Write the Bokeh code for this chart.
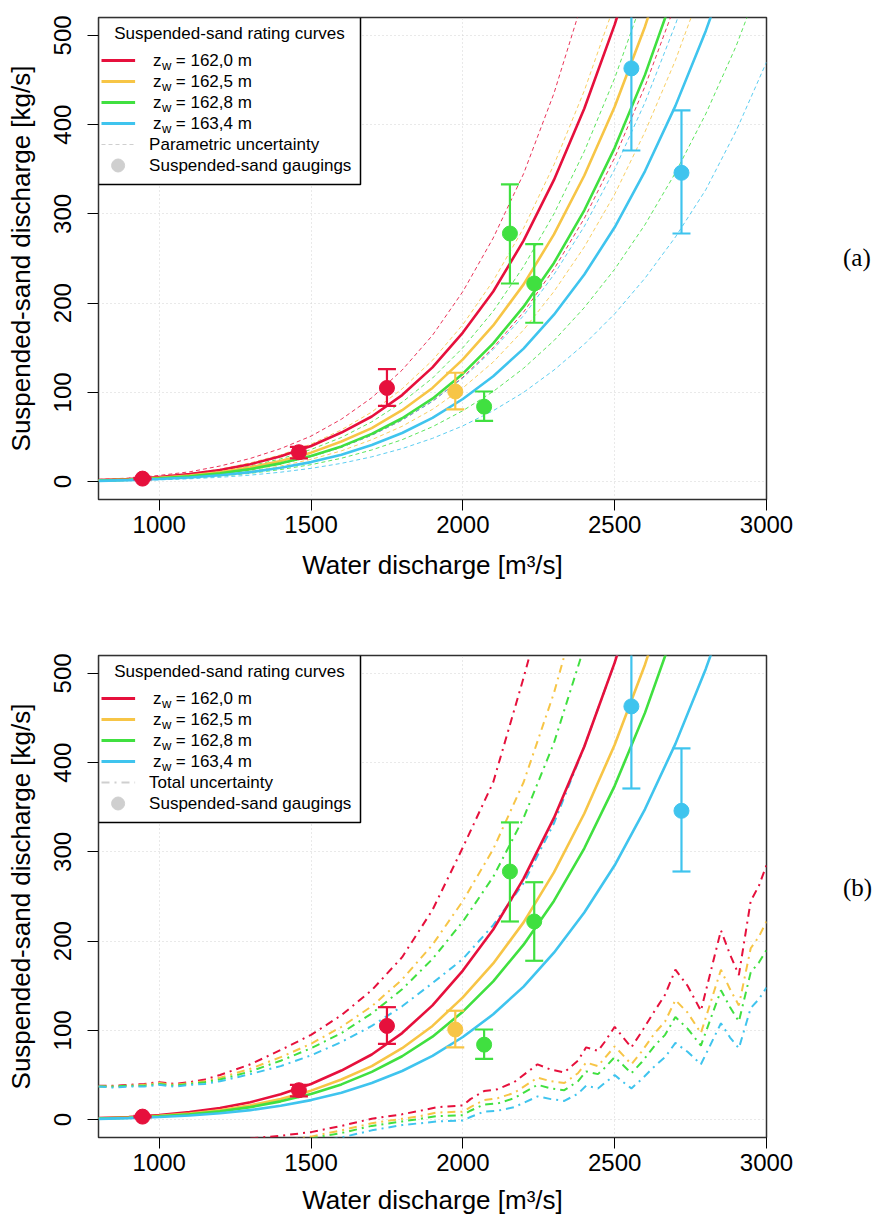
from bokeh.plotting import figure
from bokeh.models import Range1d, FixedTicker, Label, Div
from bokeh.layouts import column, row
from bokeh.embed import file_html
from bokeh.resources import INLINE

# ---------------- data ----------------
X_TICKS = [1000, 1500, 2000, 2500, 3000]
Y_TICKS = [0, 100, 200, 300, 400, 500]
X_RANGE = (800, 3000)
Y_RANGE = (-20, 520)

STAGES = ["162,0", "162,5", "162,8", "163,4"]

# rating curves (median), water discharge grid
q_grid = [800, 900, 1000, 1100, 1200, 1300, 1400, 1500, 1600, 1700, 1800, 1900,
          2000, 2100, 2200, 2300, 2400, 2500, 2600, 2700, 2800, 2900, 3000]
red_mid = [1.8, 3.0, 5.2, 8.5, 13, 19.5, 28.5, 40, 55, 73, 97, 128, 167, 213, 270, 338, 418, 512, 620]
yel_mid = [1.4, 2.4, 4.2, 6.8, 10.5, 16, 23, 32.5, 45, 60, 80, 105, 137, 175, 221, 277, 343, 420, 510, 615]
grn_mid = [1.2, 2.1, 3.8, 6.0, 9.3, 14, 20.5, 28.7, 39.5, 53.5, 71, 93, 121, 155, 196, 245, 304, 374, 456, 552]
blu_mid = [0.9, 1.7, 2.9, 4.6, 7.1, 10.7, 15.6, 21.9, 30.2, 41, 54.5, 71.5, 92.6, 118, 149, 187, 232, 285, 348, 421, 505, 600]

# parametric uncertainty (panel a)
red_par_hi = [2.5, 4.0, 7.0, 11, 17.5, 26, 37, 51, 70, 94, 125, 164, 213, 273, 345, 435, 545]
red_par_lo = [1.2, 2.0, 3.6, 5.8, 9.0, 13.5, 20, 28, 38.5, 52, 69, 90, 117, 150, 190, 238, 295, 363, 443, 535]
yel_par_hi = [1.9, 3.2, 5.5, 9.0, 14, 21, 30, 42, 58, 78, 104, 136, 176, 225, 284, 355, 438, 535]
yel_par_lo = [1.0, 1.8, 3.2, 5.2, 8.0, 12, 17.5, 25, 34.5, 47, 62, 81, 105, 134, 170, 213, 263, 322, 392, 472, 565]
grn_par_hi = [1.6, 2.7, 4.7, 7.6, 11.8, 17.6, 25.5, 36, 49.5, 67, 89, 116, 150, 191, 241, 300, 370, 452, 548]
grn_par_lo = [0.8, 1.4, 2.5, 4.0, 6.2, 9.3, 13.6, 19, 26.2, 35.5, 47, 61.5, 79.5, 101, 127, 158, 195, 238, 288, 346, 412, 488, 578]
blu_par_hi = [1.2, 2.2, 3.8, 6.0, 9.2, 13.8, 20, 28, 38.5, 52, 69, 90, 116, 148, 186, 232, 286, 350, 425, 512, 612]
blu_par_lo = [0.6, 1.1, 2.0, 3.2, 4.9, 7.3, 10.6, 14.9, 20.5, 27.8, 37, 48.5, 62.5, 79.5, 100, 125, 154, 188, 228, 274, 327, 393, 470]

# total uncertainty, upper bounds (panel b)
q_tot = [800, 850, 900, 950, 1000, 1050, 1100, 1150, 1200, 1300, 1400, 1500, 1600,
         1700, 1800, 1900, 2000, 2100, 2200, 2300, 2400, 2500, 2600]
red_tot_hi = [38, 38, 39, 40, 42, 40, 42, 45, 50, 62, 78, 95, 117, 145, 182, 235, 305, 378, 495, 620]
yel_tot_hi = [37.5, 37, 38, 39, 41, 39, 41, 43, 47, 57, 70, 85, 104, 127, 157, 196, 245, 303, 378, 478, 600]
grn_tot_hi = [37, 37, 38, 38, 40, 38, 40, 42, 45, 54, 66, 80, 97, 119, 146, 180, 222, 272, 338, 422, 530]
blu_tot_hi = [37, 36, 37, 37, 39, 37, 39, 40, 43, 51, 60, 72, 87, 105, 127, 153, 180, 218, 265, 332, 418, 512, 620]

# total uncertainty, lower bounds (panel b)
q_low = [1300, 1400, 1500, 1600, 1700, 1800, 1860, 1915, 2000, 2025, 2070, 2114, 2169,
         2246, 2290, 2334, 2379, 2406, 2445, 2467, 2500, 2528, 2555, 2588, 2632, 2666,
         2700, 2740, 2784, 2850, 2880, 2909, 2948, 2975, 3000]
red_tot_lo = [-21, -18, -14, -7, 1, 6, 10, 14, 16, 23, 32, 34, 42, 62, 56, 53, 66, 81, 77, 87,
              104, 92, 81, 98, 122, 140, 168, 150, 122, 212, 185, 162, 245, 262, 285]
yel_tot_lo = [-28, -24, -19, -12, -4, 1, 4, 8, 9, 14, 22, 24, 30, 47, 43, 41, 52, 64, 60, 69,
              82, 72, 62, 76, 97, 110, 134, 120, 97, 168, 146, 128, 192, 205, 222]
grn_tot_lo = [-30, -26, -21, -15, -7, -2, 1, 4, 5, 10, 17, 18, 24, 39, 35, 33, 43, 54, 51, 58,
              70, 61, 52, 64, 83, 95, 115, 102, 83, 145, 126, 110, 165, 176, 190]
blu_tot_lo = [-33, -30, -26, -20, -12, -6, -4, -2, -1, 3, 9, 10, 14, 26, 23, 21, 29, 38, 35, 41,
              50, 42, 35, 45, 60, 70, 86, 76, 62, 108, 92, 80, 125, 135, 148]

# suspended-sand gaugings with error bars
gauge_q = {"red": [945, 1460, 1750], "yel": [1975], "grn": [2070, 2155, 2235], "blu": [2555, 2720]}
gauge_qs = {"red": [3.4, 33, 105], "yel": [101], "grn": [84, 278, 222], "blu": [463, 346]}
gauge_lo = {"red": [2.5, 26, 85], "yel": [81], "grn": [68, 222, 178], "blu": [371, 278]}
gauge_hi = {"red": [4.3, 39, 126], "yel": [122], "grn": [101, 333, 266], "blu": [555, 416]}

# ---------------- styles ----------------
COLORS = {"red": "#E6103C", "yel": "#F7C546", "grn": "#40E040", "blu": "#3FC4EE"}
KEYS = ["red", "yel", "grn", "blu"]
FONT = "Liberation Sans"
FRAME_W, FRAME_H = 668, 482
MID = {"red": red_mid, "yel": yel_mid, "grn": grn_mid, "blu": blu_mid}
PAR = {"red": (red_par_hi, red_par_lo), "yel": (yel_par_hi, yel_par_lo),
       "grn": (grn_par_hi, grn_par_lo), "blu": (blu_par_hi, blu_par_lo)}
TOT_HI = {"red": red_tot_hi, "yel": yel_tot_hi, "grn": grn_tot_hi, "blu": blu_tot_hi}
TOT_LO = {"red": red_tot_lo, "yel": yel_tot_lo, "grn": grn_tot_lo, "blu": blu_tot_lo}

LEFT_B, RIGHT_B = 98, 32


def px_x(px):
    return X_RANGE[0] + px * (X_RANGE[1] - X_RANGE[0]) / FRAME_W


def px_y(py):
    return Y_RANGE[1] - py * (Y_RANGE[1] - Y_RANGE[0]) / FRAME_H


def lab(p, x, y, text, size="17px", align="left", font=FONT):
    p.add_layout(Label(x=x, y=y, text=text, text_font=font, text_font_size=size,
                       text_align=align, text_baseline="middle", text_color="black"))


def make_panel(kind, top_b, bot_b, title_standoff):
    p = figure(frame_width=FRAME_W, frame_height=FRAME_H,
               x_range=Range1d(*X_RANGE), y_range=Range1d(*Y_RANGE),
               output_backend="svg", toolbar_location=None,
               min_border_left=LEFT_B, min_border_right=RIGHT_B,
               min_border_top=top_b, min_border_bottom=bot_b)
    p.background_fill_color = "white"
    p.border_fill_color = "white"
    p.outline_line_color = "#303030"
    p.outline_line_width = 1.5

    p.xaxis.ticker = FixedTicker(ticks=X_TICKS)
    p.yaxis.ticker = FixedTicker(ticks=Y_TICKS)
    p.xgrid.ticker = FixedTicker(ticks=X_TICKS)
    p.ygrid.ticker = FixedTicker(ticks=Y_TICKS)
    for g in (p.xgrid, p.ygrid):
        g.grid_line_color = "#D3D3D3"
        g.grid_line_dash = "1 3"
        g.grid_line_width = 1

    p.xaxis.axis_label = "Water discharge [m³/s]"
    p.yaxis.axis_label = "Suspended-sand discharge [kg/s]"
    for ax in (p.xaxis, p.yaxis):
        ax.axis_line_color = None
        ax.major_tick_in = 0
        ax.major_tick_out = 11
        ax.major_tick_line_color = "black"
        ax.major_tick_line_width = 1
        ax.minor_tick_line_color = None
        ax.major_label_text_font = FONT
        ax.major_label_text_font_size = "24px"
        ax.major_label_text_color = "black"
        ax.axis_label_text_font = FONT
        ax.axis_label_text_font_size = "26px"
        ax.axis_label_text_font_style = "normal"
        ax.axis_label_text_color = "black"
    p.xaxis.major_label_standoff = 5
    p.xaxis.axis_label_standoff = title_standoff
    p.yaxis.major_label_orientation = "vertical"
    p.yaxis.major_label_standoff = 16
    p.yaxis.axis_label_standoff = 16

    # legend box (drawn first, under everything else)
    p.quad(left=px_x(0), right=px_x(262), top=px_y(0), bottom=px_y(167),
           fill_color="white", line_color="black", line_width=1.5)

    # uncertainty curves
    for k in KEYS:
        c = COLORS[k]
        if kind == "param":
            hi, lo = PAR[k]
            p.line(q_grid[:len(hi)], hi, line_color=c, line_width=1, line_dash="4 3", line_alpha=0.85)
            p.line(q_grid[:len(lo)], lo, line_color=c, line_width=1, line_dash="4 3", line_alpha=0.85)
        else:
            hi, lo = TOT_HI[k], TOT_LO[k]
            p.line(q_tot[:len(hi)], hi, line_color=c, line_width=2, line_dash="8 5 2 5")
            p.line(q_low[:len(lo)], lo, line_color=c, line_width=2, line_dash="8 5 2 5")

    # median rating curves
    for k in KEYS:
        m = MID[k]
        p.line(q_grid[:len(m)], m, line_color=COLORS[k], line_width=2.6)

    # gaugings with error bars
    for k in KEYS:
        c = COLORS[k]
        xs, ys, lo, hi = gauge_q[k], gauge_qs[k], gauge_lo[k], gauge_hi[k]
        p.segment(x0=xs, y0=lo, x1=xs, y1=hi, line_color=c, line_width=2.2)
        p.scatter(xs, lo, marker="dash", size=18, line_color=c, line_width=2.2)
        p.scatter(xs, hi, marker="dash", size=18, line_color=c, line_width=2.2)
        p.scatter(xs, ys, marker="circle", size=15, fill_color=c, line_color=c)

    # legend content
    lab(p, px_x(131), px_y(16), "Suspended-sand rating curves", align="center")
    for i, k in enumerate(KEYS):
        yy = 43 + 21 * i
        p.segment(x0=[px_x(3)], y0=[px_y(yy)], x1=[px_x(36.6)], y1=[px_y(yy)],
                  line_color=COLORS[k], line_width=3)
        lab(p, px_x(54.6), px_y(yy), "z")
        lab(p, px_x(63.6), px_y(yy + 5), "w", size="13px")
        lab(p, px_x(77.3), px_y(yy), "= " + STAGES[i] + " m")
    yy = 43 + 21 * 4
    if kind == "param":
        p.segment(x0=[px_x(3)], y0=[px_y(yy)], x1=[px_x(36.6)], y1=[px_y(yy)],
                  line_color="#CFCFCF", line_width=1, line_dash="4 3")
        lab(p, px_x(50.6), px_y(yy), "Parametric uncertainty")
    else:
        p.segment(x0=[px_x(3)], y0=[px_y(yy)], x1=[px_x(36.6)], y1=[px_y(yy)],
                  line_color="#CFCFCF", line_width=2, line_dash="8 5 2 5")
        lab(p, px_x(50.6), px_y(yy), "Total uncertainty")
    yy = 43 + 21 * 5
    p.scatter([px_x(19.6)], [px_y(yy)], marker="circle", size=13,
              fill_color="#CFCFCF", line_color="#CFCFCF")
    lab(p, px_x(50.6), px_y(yy), "Suspended-sand gaugings")
    return p


def tag_div(tag, top, height):
    fig_w = LEFT_B + FRAME_W + RIGHT_B
    html = ('<div style="font-family: \'Liberation Serif\', serif; font-size: 25px; '
            'line-height: 30px; margin: %dpx 0 0 45px; color: black;">%s</div>' % (top, tag))
    return Div(text=html, width=876 - fig_w, height=height, margin=0)


pa = make_panel("param", 17, 100, 14)
pb = make_panel("total", 56, 83, 11)
layout = column(row(pa, tag_div("(a)", 243, 599), spacing=0),
                row(pb, tag_div("(b)", 274, 621), spacing=0), spacing=0)
open("out.html", "w").write(file_html(layout, INLINE))
